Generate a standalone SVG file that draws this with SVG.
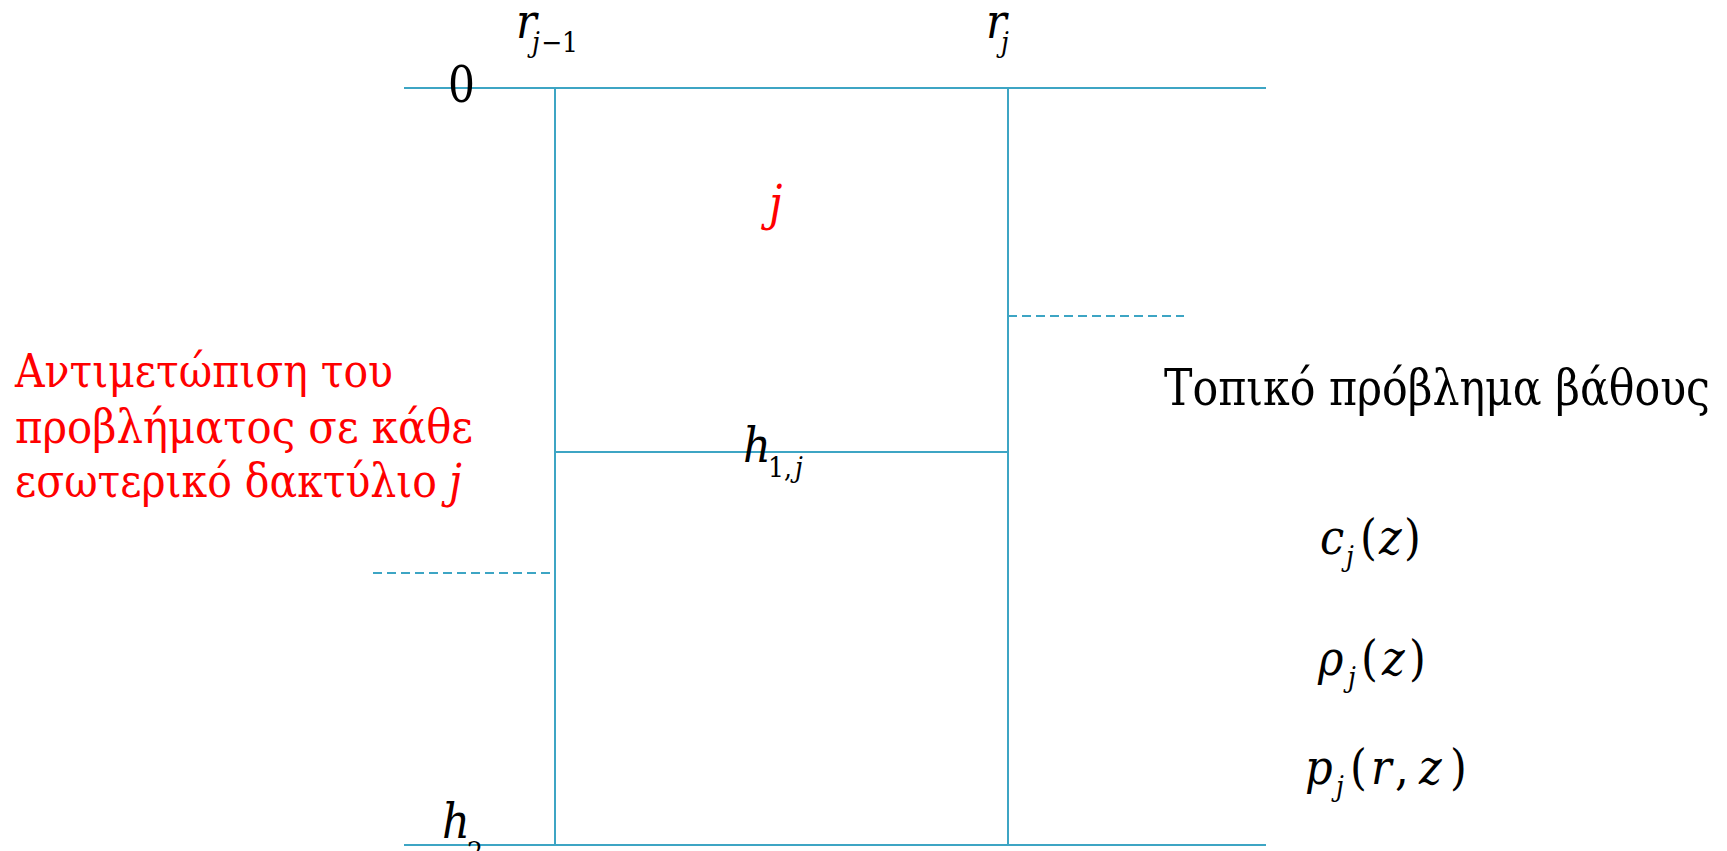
<svg xmlns="http://www.w3.org/2000/svg" width="1727" height="851" viewBox="0 0 1727 851">
<style>
.ln{stroke:#3DA5C4;stroke-width:2;fill:none}
.dash{stroke:#3DA5C4;stroke-width:2;fill:none;stroke-dasharray:9 5}
.m{font-size:48px}
.s{font-size:28px}
.i{font-style:italic}
.red{fill:#FF0000}
.t{font-size:46px}
.b{font-size:50px}
</style>
<rect width="1727" height="851" fill="#fff"/>
<g id="connectors">
<line class="ln" x1="404" y1="88" x2="1266" y2="88"/>
<line class="ln" x1="404" y1="845" x2="1266" y2="845"/>
<line class="ln" x1="555" y1="88" x2="555" y2="845"/>
<line class="ln" x1="1008" y1="88" x2="1008" y2="845"/>
<line class="ln" x1="555" y1="452" x2="1008" y2="452"/>
<line class="dash" x1="1008" y1="316" x2="1184" y2="316"/>
<line class="dash" x1="373" y1="573" x2="551" y2="573"/>
</g>
<g font-family="DejaVu Serif Condensed, DejaVu Serif, serif" fill="#000">
<g id="label-zero"><text x="448" y="102" font-size="51" textLength="27" lengthAdjust="spacingAndGlyphs">0</text></g>
<g id="label-rj1"><text><tspan class="m i" x="516" y="38">r</tspan><tspan class="s i" x="532" y="52">j</tspan><tspan class="s" x="541" y="52">−1</tspan></text></g>
<g id="label-rj"><text><tspan class="m i" x="986" y="38">r</tspan><tspan class="s i" x="1001" y="52">j</tspan></text></g>
<g id="label-j"><text class="red i" x="769" y="220" font-size="48">j</text></g>
<g id="label-h1j"><text><tspan class="m i" x="743" y="462">h</tspan><tspan class="s" x="768" y="477">1,</tspan><tspan class="s i" x="795" y="477">j</tspan></text></g>
<g id="label-h2"><text><tspan class="m i" x="442" y="838">h</tspan><tspan class="s" x="467" y="862">2</tspan></text></g>
<g id="label-left" class="t red">
<text x="15" y="387" textLength="378" lengthAdjust="spacingAndGlyphs">Αντιμετώπιση του</text>
<text x="15" y="443" textLength="458" lengthAdjust="spacingAndGlyphs">προβλήματος σε κάθε</text>
<text x="15" y="497" textLength="422" lengthAdjust="spacingAndGlyphs">εσωτερικό δακτύλιο</text>
<text class="i" x="449" y="497">j</text>
</g>
<g id="label-right"><text class="b" x="1164" y="405" textLength="546" lengthAdjust="spacingAndGlyphs">Τοπικό πρόβλημα βάθους</text></g>
<g id="label-c"><text><tspan class="m i" x="1320" y="554">c</tspan><tspan class="s i" x="1346" y="566">j</tspan><tspan class="m" x="1360" y="554">(</tspan><tspan class="m i" x="1379" y="554">z</tspan><tspan class="m" x="1404" y="554">)</tspan></text></g>
<g id="label-rho"><text><tspan class="m i" x="1318" y="675">ρ</tspan><tspan class="s i" x="1348" y="687">j</tspan><tspan class="m" x="1361" y="675">(</tspan><tspan class="m i" x="1382" y="675">z</tspan><tspan class="m" x="1409" y="675">)</tspan></text></g>
<g id="label-p"><text><tspan class="m i" x="1305" y="784">p</tspan><tspan class="s i" x="1336" y="796">j</tspan><tspan class="m" x="1350" y="784">(</tspan><tspan class="m i" x="1371" y="784">r</tspan><tspan class="m" x="1395" y="784">,</tspan><tspan class="m i" x="1419" y="784">z</tspan><tspan class="m" x="1450" y="784">)</tspan></text></g>
</g>
</svg>
